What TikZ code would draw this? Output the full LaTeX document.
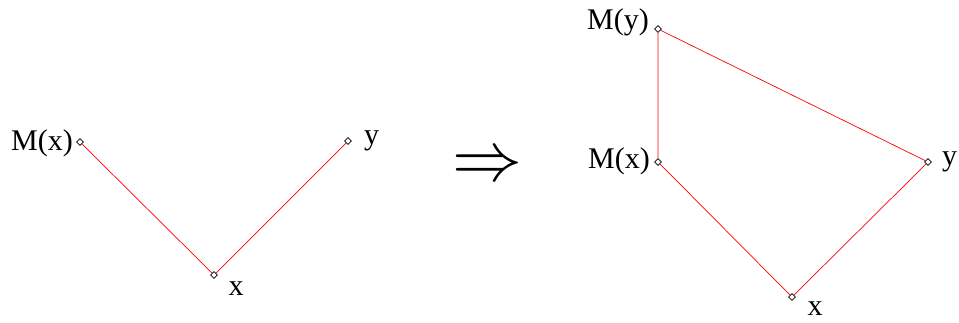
\documentclass[tikz,border=0pt]{standalone}
\usepackage{fontspec}
\setmainfont{Liberation Serif}
\usetikzlibrary{shapes.geometric}
\begin{document}
\begin{tikzpicture}[x=1pt,y=-1pt,
  pt/.style={diamond,draw=black,fill=white,line width=0.6pt,inner sep=0pt,minimum size=7pt},
  edge/.style={draw=red,line width=0.7pt},
  lbl/.style={font=\fontsize{30}{30}\selectfont,inner sep=0pt}]
\useasboundingbox (0,0) rectangle (959,322);
% left
\node[pt] (lmx) at (80,142) {};
\node[pt] (lx) at (214,275) {};
\node[pt] (ly) at (348,141) {};
\draw[edge] (lmx) -- (lx) -- (ly);
\node[lbl,anchor=east] (tlmx) at (73,143) {M(x)};
\node[lbl] (tlx) at (236,289) {x};
\node[lbl,anchor=west] (tly) at (364,141) {y};
% arrow
\node[inner sep=0pt] (arr) at (487,168) {\scalebox{7}{$\Rightarrow$}};
% right
\node[pt] (rmy) at (658,29) {};
\node[pt] (rmx) at (658,162) {};
\node[pt] (ry) at (928,162) {};
\node[pt] (rx) at (792,297) {};
\draw[edge] (rmx) -- (rmy) -- (ry) -- (rx) -- (rmx);
\node[lbl,anchor=east] (trmy) at (649,22) {M(y)};
\node[lbl,anchor=east] (trmx) at (650,161) {M(x)};
\node[lbl,anchor=west] (try) at (942,162) {y};
\node[lbl] (trx) at (815,309) {x};
\end{tikzpicture}
\end{document}
